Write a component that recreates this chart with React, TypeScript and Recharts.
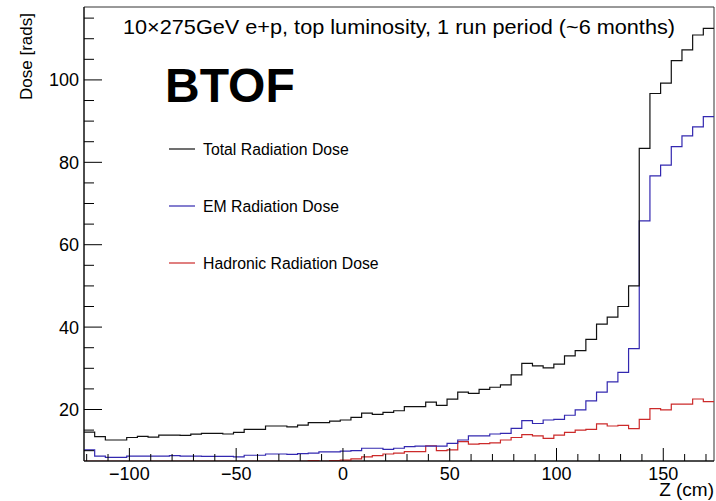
import React from "react";
import { LineChart, Line, XAxis, YAxis, ReferenceArea } from "recharts";

// histogram binning (Z in cm)
const binLow = -121.25;
const binWidth = 5;

const totalDose = [
  14.5, 13.4, 12.6, 12.6, 13.2, 13.5, 13.3, 13.8, 13.8, 13.7,
  14.0, 14.2, 14.2, 14.05, 14.45, 15.2, 15.2, 16.0, 16.0, 15.8,
  16.2, 16.8, 16.8, 17.2, 17.45, 18.1, 19.1, 18.8, 19.3, 19.7,
  20.7, 20.7, 21.8, 21.0, 22.5, 24.2, 23.9, 24.9, 25.4, 26.0,
  28.4, 31.2, 30.6, 30.1, 31.0, 33.0, 34.3, 37.0, 40.7, 42.4,
  45.0, 50.0, 83.4, 96.7, 99.2, 104.7, 107.3, 110.9, 112.5,
];

const emDose = [
  10.2, 8.7, 8.4, 8.4, 8.7, 8.7, 8.7, 8.7, 8.8, 8.7,
  8.7, 8.6, 8.6, 8.6, 8.5, 8.9, 8.9, 9.2, 9.2, 9.1,
  9.3, 9.4, 9.7, 9.7, 9.9, 10.0, 10.6, 10.6, 10.3, 10.6,
  11.0, 11.1, 11.1, 11.1, 11.8, 12.6, 13.6, 13.6, 14.05, 14.2,
  15.4, 17.3, 16.6, 17.45, 17.6, 18.6, 19.9, 22.1, 24.2, 26.7,
  29.0, 34.8, 65.8, 76.7, 79.3, 83.8, 86.4, 88.6, 91.1,
];

const hadronicDose = [
  7.4, 7.4, 7.4, 7.4, 7.4, 7.4, 7.4, 7.4, 7.4, 7.4,
  7.4, 7.4, 7.4, 7.4, 7.4, 7.4, 7.4, 7.4, 7.4, 7.4,
  7.4, 7.6, 7.4, 7.6, 7.7, 8.0, 8.5, 8.8, 9.2, 9.4,
  9.8, 9.8, 11.2, 10.0, 10.2, 12.2, 11.6, 11.7, 11.9, 12.6,
  13.2, 13.9, 13.6, 13.0, 13.8, 14.45, 15.0, 15.2, 16.5, 16.0,
  16.15, 15.35, 17.6, 20.2, 19.9, 21.3, 21.3, 22.55, 21.9,
];

const xTicks = [-120, -110, -100, -90, -80, -70, -60, -50, -40, -30, -20, -10, 0, 10, 20, 30, 40, 50, 60, 70, 80, 90, 100, 110, 120, 130, 140, 150, 160, 170];
const yTicks = [10, 15, 20, 25, 30, 35, 40, 45, 50, 55, 60, 65, 70, 75, 80, 85, 90, 95, 100, 105, 110, 115];

const seriesNames = ["Total Radiation Dose", "EM Radiation Dose", "Hadronic Radiation Dose"];
const seriesColors = ["#111111", "#3328b0", "#cc2a2a"];
const title = "10\u00d7275GeV e+p, top luminosity, 1 run period (~6 months)";

const nBins = totalDose.length;
const xMin = binLow;
const xMax = binLow + nBins * binWidth;
const yMin = 7.5;
const yMax = 117.7;

// one point per bin edge, last edge repeats the last bin so stepAfter closes it
const data = Array.from({ length: nBins + 1 }, (_, i) => {
  const b = Math.min(i, nBins - 1);
  return { z: binLow + i * binWidth, total: totalDose[b], em: emDose[b], had: hadronicDose[b] };
});

const FONT = "'Liberation Sans', Arial, Helvetica, sans-serif";

function fmt(v: number) {
  return v < 0 ? "\u2212" + Math.abs(v) : String(v);
}

// eslint-disable-next-line @typescript-eslint/no-explicit-any
function XTick({ x, y, payload }: any) {
  const v = payload.value;
  const major = v % 50 === 0;
  return (
    <g>
      <line x1={x} x2={x} y1={y} y2={y - (major ? 13 : 7)} stroke="#000" />
      {major && (
        <text x={x} y={y + 19} textAnchor="middle" fontSize={18} fontFamily={FONT} fill="#000">
          {fmt(v)}
        </text>
      )}
    </g>
  );
}

// eslint-disable-next-line @typescript-eslint/no-explicit-any
function YTick({ x, y, payload }: any) {
  const v = payload.value;
  const major = v % 20 === 0;
  return (
    <g>
      <line x1={x} x2={x + (major ? 18 : 10)} y1={y} y2={y} stroke="#000" />
      {major && (
        <text x={x - 5} y={y + 6.4} textAnchor="end" fontSize={18} fontFamily={FONT} fill="#000">
          {fmt(v)}
        </text>
      )}
    </g>
  );
}

export default function App() {
  return (
    <div style={{ position: "absolute", left: 0, top: 0, width: 716, height: 501, background: "#fff" }}>
      <LineChart width={716} height={501} data={data} margin={{ top: 7, right: 2, bottom: 0, left: 0 }}>
        <XAxis
          dataKey="z"
          type="number"
          domain={[xMin, xMax]}
          ticks={xTicks}
          interval={0}
          tick={XTick}
          tickLine={false}
          tickSize={0}
          tickMargin={0}
          height={40}
          allowDataOverflow
          axisLine={{ stroke: "#000" }}
        />
        <YAxis
          type="number"
          domain={[yMin, yMax]}
          ticks={yTicks}
          interval={0}
          tick={YTick}
          tickLine={false}
          tickSize={0}
          tickMargin={0}
          width={84}
          allowDataOverflow
          axisLine={{ stroke: "#000" }}
        />
        <ReferenceArea x1={xMin} x2={xMax} y1={yMin} y2={yMax} fill="none" stroke="#333" ifOverflow="visible" />
        <Line dataKey="had" type="stepAfter" stroke={seriesColors[2]} strokeWidth={1.2} dot={false} isAnimationActive={false} />
        <Line dataKey="em" type="stepAfter" stroke={seriesColors[1]} strokeWidth={1.2} dot={false} isAnimationActive={false} />
        <Line dataKey="total" type="stepAfter" stroke={seriesColors[0]} strokeWidth={1.2} dot={false} isAnimationActive={false} />
      </LineChart>
      <svg width={716} height={501} style={{ position: "absolute", left: 0, top: 0, pointerEvents: "none" }}>
        <text x={123} y={34} fontSize={21} textLength={552} lengthAdjust="spacingAndGlyphs" fontFamily={FONT} fill="#000">{title}</text>
        <text x={165} y={101.5} fontSize={48} fontWeight="bold" fontFamily={FONT} fill="#000">BTOF</text>
        {seriesNames.map((name, i) => (
          <g key={name}>
            <line x1={169} x2={195} y1={149 + i * 57} y2={149 + i * 57} stroke={seriesColors[i]} strokeWidth={1.2} />
            <text x={203} y={154.5 + i * 57} fontSize={15.8} fontFamily={FONT} fill="#000">{name}</text>
          </g>
        ))}
        <text x={714} y={496} textAnchor="end" fontSize={19} fontFamily={FONT} fill="#000">Z (cm)</text>
        <text transform="translate(32,13) rotate(-90)" textAnchor="end" fontSize={17} fontFamily={FONT} fill="#000">Dose [rads]</text>
      </svg>
    </div>
  );
}
